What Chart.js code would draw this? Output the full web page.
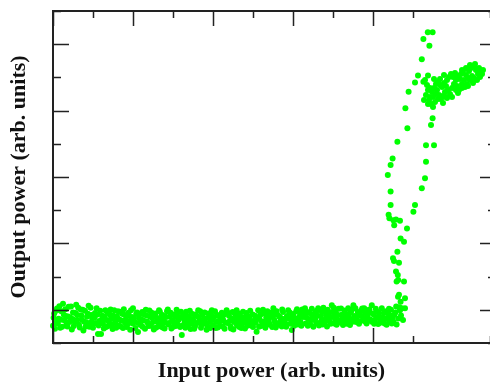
<!DOCTYPE html>
<html>
<head>
<meta charset="utf-8">
<script src="https://cdn.jsdelivr.net/npm/chart.js@4"></script>
<style>
  html, body { margin: 0; padding: 0; background: #fff; }
  #wrap { width: 490px; height: 385px; }
</style>
</head>
<body>
<div id="wrap"><canvas id="powerChart"></canvas></div>
<script>
// Titres des axes
const titreX = 'Input power (arb. units)';
const titreY = 'Output power (arb. units)';

// Bande plate (sous le seuil)
const plat = [
  [0,5.2],[0.3,8.9],[0.7,6.1],[1.0,10.4],[1.4,7.3],[1.8,4.6],[2.1,9.6],[2.5,11.8],[2.9,6.8],[3.2,8.1],
  [3.6,5.0],[3.9,10.9],[4.3,7.7],[4.7,4.1],[5.0,9.2],[5.4,6.4],[5.8,11.5],[6.1,8.4],[6.5,5.5],[6.9,10.1],
  [7.2,7.0],[7.6,3.8],[8.0,9.7],[8.3,6.2],[8.7,8.8],[9.1,4.9],[9.4,10.6],[9.8,7.4],[10.2,5.8],[10.5,9.0],
  [10.9,10.5],[11.25,2.7],[11.6,6.6],[12.0,2.7],[12.3,8.2],[12.7,4.4],[13.1,9.9],[13.4,6.9],[13.8,5.1],[14.2,8.6],
  [14.5,7.3],[14.9,4.2],[15.3,9.9],[15.6,6.0],[16.0,8.0],[16.4,5.3],[16.7,9.4],[17.1,6.7],[17.5,4.5],[17.8,8.5],
  [18.2,7.1],[18.6,5.6],[18.9,9.1],[19.3,4.0],[19.7,7.8],[20.0,10.5],[20.4,6.3],[20.8,8.7],[21.25,3.3],[21.5,7.5],
  [21.9,5.4],[22.3,9.3],[22.6,6.8],[23.0,4.3],[23.4,8.3],[23.7,6.0],[24.1,9.8],[24.5,5.2],[24.8,7.6],[25.2,4.1],
  [25.6,8.9],[25.9,6.5],[26.3,5.0],[26.7,9.5],[27.0,7.2],[27.4,4.7],[27.8,8.1],[28.1,6.1],[28.5,9.6],[28.9,5.6],
  [29.2,7.9],[29.6,4.4],[30.0,8.6],[30.3,6.4],[30.7,5.1],[31.1,9.0],[31.4,7.0],[31.8,4.8],[32.2,2.4],[32.5,8.4],
  [32.9,6.2],[33.3,9.4],[33.6,5.3],[34.0,7.6],[34.4,4.2],[34.7,8.8],[35.1,6.6],[35.5,5.0],[35.8,8.1],[36.3,9.9],
  [36.6,6.9],[37.0,4.6],[37.3,8.5],[37.7,5.9],[38.1,7.4],[38.4,4.0],[38.8,8.9],[39.2,6.3],[39.7,9.9],[40.0,5.4],
  [40.3,7.8],[40.7,4.5],[41.1,8.4],[41.4,6.5],[41.8,5.2],[42.2,9.1],[42.5,7.1],[42.9,4.3],[43.4,9.9],[43.6,6.0],
  [44.0,8.2],[44.4,5.0],[44.7,7.3],[45.1,4.1],[45.5,8.7],[45.9,9.9],[46.2,6.4],[46.6,4.8],[46.9,8.0],[47.3,5.7],
  [47.7,7.5],[48.0,4.4],[48.4,9.0],[48.8,6.1],[49.1,7.9],[49.5,5.3],[49.9,8.6],[50.2,6.7],[50.9,3.4],[51.3,9.9],
  [51.6,7.2],[52.0,5.1],[52.4,8.9],[52.7,6.3],[53.1,4.6],[53.5,8.3],[53.8,6.9],[54.2,5.5],[54.6,9.2],[55.1,10.5],
  [55.3,7.0],[55.7,4.7],[56.1,8.5],[56.4,6.0],[56.8,7.7],[57.2,5.0],[57.5,9.3],[57.9,6.6],[58.3,4.9],[58.8,9.9],
  [59.0,7.4],[59.4,5.8],[59.7,3.9],[60.1,8.7],[60.5,6.8],[60.8,9.6],[61.2,5.6],[61.6,8.0],[61.9,6.3],[62.3,10.1],
  [63.0,10.5],[63.4,7.6],[63.7,5.2],[64.1,9.0],[64.5,6.9],[64.8,8.4],[65.1,4.9],[65.6,7.3],[65.9,9.7],[66.3,10.5],
  [66.7,6.1],[67.0,8.2],[67.4,5.6],[67.8,9.4],[68.1,7.1],[68.5,5.0],[68.9,8.8],[69.2,6.5],[69.7,11.4],[70.0,7.9],
  [70.3,5.9],[70.7,9.1],[71.1,7.0],[71.4,10.3],[71.8,6.2],[72.2,8.5],[72.5,5.4],[72.9,9.8],[73.3,7.4],[73.6,6.0],
  [74.0,8.7],[74.25,5.4],[74.7,10.0],[75.1,11.4],[75.4,7.7],[75.8,6.3],[76.2,9.3],[76.5,5.8],[76.9,8.2],[77.3,10.4],
  [77.6,6.8],[78.0,9.0],[78.4,5.9],[78.7,7.5],[79.1,10.1],[79.7,11.4],[79.7,6.4],[80.2,8.6],[80.5,7.0],[80.9,9.5],
  [81.3,5.7],[81.6,8.0],[82.0,6.7],[82.2,10.5],[82.7,9.0],[83.1,7.3],[83.4,5.5],[83.8,8.9],[84.2,6.6],[84.5,10.0],
  [84.9,7.8],[85.1,6.4],[85.6,9.2],[85.9,5.6],[86.3,7.4],[86.6,10.8],[87.0,8.3],[87.2,10.5],[86.25,13.9],[87.5,6.9]
];

// Deuxieme passage de mesure, meme bande
const plat2 = [
  [0.15,7.6],[0.5,4.3],[0.9,9.8],[1.2,5.9],[1.6,11.1],[2.0,7.0],[2.3,4.9],[2.7,8.5],[3.1,10.2],[3.4,5.7],
  [3.8,8.0],[4.1,6.3],[4.5,11.0],[4.9,7.2],[5.2,5.1],[5.6,9.0],[6.0,6.9],[6.3,10.6],[6.7,4.7],[7.1,8.3],
  [7.4,10.0],[7.8,6.4],[8.2,5.0],[8.5,7.9],[8.9,11.2],[9.3,6.1],[9.6,8.4],[10.0,4.6],[10.4,7.7],[10.7,6.0],
  [11.1,8.6],[11.4,5.3],[11.8,9.7],[12.2,7.0],[12.5,5.8],[12.9,8.0],[13.3,4.8],[13.6,9.3],[14.0,6.4],[14.4,10.1],
  [14.7,5.5],[15.1,8.2],[15.5,6.8],[15.8,4.6],[16.2,9.6],[16.6,7.1],[16.9,5.0],[17.3,8.8],[17.7,10.2],[18.0,6.2],
  [18.4,4.8],[18.8,8.3],[19.1,6.6],[19.5,9.9],[19.9,5.9],[20.2,7.4],[20.6,4.5],[21.0,9.2],[21.3,6.0],[21.7,8.7],
  [22.1,7.1],[22.4,4.9],[22.8,8.6],[23.2,10.0],[23.5,6.5],[23.9,5.1],[24.3,7.9],[24.6,9.2],[25.0,6.3],[25.4,8.1],
  [25.7,4.6],[26.1,7.5],[26.5,9.9],[26.8,5.8],[27.2,8.5],[27.6,6.6],[27.9,4.4],[28.3,7.8],[28.7,10.1],[29.0,6.0],
  [29.4,9.1],[29.8,6.8],[30.1,4.9],[30.5,8.0],[30.9,10.0],[31.2,5.6],[31.6,7.7],[32.0,9.4],[32.3,5.2],[32.7,7.3],
  [33.1,4.6],[33.4,8.2],[33.8,6.8],[34.2,9.7],[34.5,5.9],[34.9,7.2],[35.3,4.3],[35.6,8.6],[36.0,6.0],[36.4,7.8],
  [36.8,9.6],[37.1,5.5],[37.5,7.0],[37.9,9.2],[38.2,6.0],[38.6,5.0],[39.0,7.7],[39.3,4.5],[39.5,8.6],[39.9,7.0],
  [40.5,9.6],[40.9,6.3],[41.2,4.7],[41.6,8.0],[42.0,6.8],[42.4,5.0],[42.7,8.5],[43.1,6.2],[43.8,9.0],[44.2,6.6],
  [44.5,4.4],[44.9,9.3],[45.3,6.3],[45.7,7.5],[46.0,5.3],[46.4,8.9],[46.8,6.9],[47.1,4.5],[47.5,9.4],[47.9,6.3],
  [48.2,8.0],[48.6,5.2],[49.0,7.1],[49.3,9.7],[49.7,6.2],[50.0,4.8],[50.5,8.2],[50.7,6.1],[51.1,7.5],[51.5,4.9],
  [51.8,8.4],[52.2,6.5],[52.5,10.0],[52.9,5.6],[53.3,7.6],[53.6,9.6],[54.0,6.1],[54.4,7.8],[54.8,4.8],[55.0,8.5],
  [55.5,6.2],[55.9,9.6],[56.2,5.5],[56.6,8.0],[57.0,6.5],[57.3,10.1],[57.7,7.2],[58.1,5.8],[58.5,8.1],[59.2,9.2],
  [59.6,6.8],[59.9,8.2],[60.3,5.2],[60.6,7.4],[61.0,10.2],[61.4,6.8],[61.8,9.1],[62.1,5.2],[62.5,7.8],[62.8,8.9],
  [63.2,5.9],[63.6,9.3],[63.9,7.2],[64.3,5.6],[64.7,10.3],[65.0,7.0],[65.4,8.9],[65.8,6.0],[66.1,8.2],[66.5,5.3],
  [66.9,9.9],[67.2,7.0],[67.6,10.6],[68.0,6.4],[68.3,8.5],[68.7,10.0],[69.0,7.5],[69.4,5.8],[69.9,9.3],[70.2,10.6],
  [70.5,7.3],[70.9,5.5],[71.2,8.4],[71.6,6.8],[72.0,10.4],[72.4,7.6],[72.7,6.2],[73.1,8.9],[73.5,5.8],[73.8,10.5],
  [74.2,7.3],[74.5,9.4],[74.9,6.4],[75.3,8.1],[75.6,10.5],[76.0,7.0],[76.4,8.6],[76.7,6.4],[77.1,9.8],[77.5,7.6],
  [77.8,10.5],[78.2,6.3],[78.6,8.4],[78.9,9.6],[79.3,7.1],[79.9,8.9],[80.3,5.8],[80.7,10.3],[81.1,7.6],[81.4,9.2],
  [81.8,6.1],[82.4,7.7],[82.9,5.9],[83.3,9.6],[83.6,7.5],[84.0,10.3],[84.4,8.2],[84.7,5.9],[85.3,8.5],[85.8,11.0]
];

// Montee et descente (boucle d'hysteresis)
const transition = [
  [86.1,60.6],[93.25,59.6],[95.25,59.6],[84.9,55.6],[93.25,54.6],[84.4,53.6],[83.7,50.6],[93.0,49.6],
  [84.4,45.6],[92.2,46.6],[84.4,41.6],[90.5,41.6],[90.1,39.5],[83.9,38.6],[84.1,37.6],[85.1,37.0],
  [85.75,37.2],[86.75,36.8],[85.3,35.5],[88.5,34.5],[86.9,31.5],[87.75,30.5],[86.1,27.5],[85.0,25.5],
  [85.25,24.7],[86.5,24.2],[85.75,21.5],[86.2,20.5],[86.3,19.0],[87.75,18.5],[85.9,18.5],[86.5,14.5],
  [88.0,13.5],[86.9,12.4],[86.75,9.9],[88.0,10.5],
  [93.7,93.6],[94.9,93.6],[92.6,91.6],[94.1,89.5],[92.2,85.5],[91.25,80.6],[93.75,80.6],[90.5,78.5],
  [92.6,78.7],[88.9,75.7],[88.1,70.7],[94.9,67.7],[94.5,65.7],[88.6,64.7]
];

// Plateau (au-dessus du seuil)
const plateau = [
  [93,79.2],[93.5,77.7],[93.75,76.2],[93.25,74.7],[94,73.2],[94.5,72.0],[95,71.1],[95.5,72.6],
  [94.25,74.1],[94.75,75.6],[95.25,76.8],[95.75,78.0],[96.25,78.6],[96.75,79.5],[96,76.2],[96.5,74.7],
  [97,73.5],[97.5,74.4],[98,75.6],[97.25,77.1],[97.75,78.3],[98.5,79.2],[99,80.1],[98.25,77.4],
  [98.75,76.2],[99.25,75.0],[98.5,73.8],[99.75,76.8],[100.25,78.0],[100.75,79.2],[100,80.1],[101.25,80.4],
  [101.75,79.5],[101,77.4],[101.5,76.2],[102.25,78.0],[102.75,79.2],[102,81.0],[102.5,81.9],[103.25,80.7],
  [103.75,79.8],[103,77.1],[103.5,78.0],[104.25,79.2],[104.75,80.4],[104,81.9],[104.5,82.8],[105.25,83.4],
  [105.75,82.2],[106.25,81.0],[106.75,80.1],[106,79.2],[105,78.3],[105.5,84.0],[106.5,82.8],[107,81.9],
  [104.25,83.7],[103.25,82.8],[102.25,82.2],[100.5,81.3],[99.5,81.0],[97.75,80.7],[96.75,77.7],[95.75,75.0],
  [95,74.1],[93.75,72.0],[92.75,73.2],[94.25,76.8],[95.25,79.5],[97.5,72.3],[99.75,74.1],[101.25,75.3],
  [98.25,74.1],[96.25,73.5],[100.75,76.2],[102.25,76.8],[103.75,77.4],[105.25,79.8],[107.5,82.2],[107.25,81.0]
];

const points = [...plat, ...plat2, ...transition, ...plateau].map(p => ({ x: p[0], y: p[1] }));

// Cadre ouvert a droite (il sort de l'image) et graduations vers l'interieur
const cadrePlugin = {
    id: 'cadre',
    afterDatasetsDraw(chart) {
        const { ctx, chartArea: a, scales } = chart;
        ctx.save();
        ctx.strokeStyle = '#222';
        ctx.lineWidth = 1.5;
        scales.x.ticks.forEach(t => {
            const px = Math.round(scales.x.getPixelForValue(t.value)) + 0.5;
            const len = t.value % 20 === 0 ? 15 : 7;
            ctx.beginPath();
            ctx.moveTo(px, a.bottom); ctx.lineTo(px, a.bottom - len);
            ctx.moveTo(px, a.top); ctx.lineTo(px, a.top + len);
            ctx.stroke();
        });
        scales.y.ticks.forEach(t => {
            const py = Math.round(scales.y.getPixelForValue(t.value)) + 0.5;
            const major = t.value % 20 === 10;
            ctx.beginPath();
            ctx.moveTo(a.left, py); ctx.lineTo(a.left + (major ? 16 : 8), py);
            ctx.moveTo(a.right, py); ctx.lineTo(a.right - (major ? 10 : 2), py);
            ctx.stroke();
        });
        ctx.lineWidth = 2;
        ctx.beginPath();
        ctx.moveTo(a.right, a.top);
        ctx.lineTo(a.left, a.top);
        ctx.lineTo(a.left, a.bottom);
        ctx.lineTo(a.right, a.bottom);
        ctx.stroke();
        ctx.restore();
    }
};

const ctx = document.getElementById('powerChart').getContext('2d');
new Chart(ctx, {
    type: 'scatter',
    data: {
        datasets: [{
            data: points,
            pointRadius: 3,
            pointBorderWidth: 0,
            pointBackgroundColor: '#00ff00',
            pointBorderColor: '#00ff00',
            clip: false
        }]
    },
    options: {
        responsive: true,
        maintainAspectRatio: false,
        animation: false,
        layout: { autoPadding: false, padding: { top: 11, right: 0, left: 0, bottom: 0 } },
        plugins: { legend: { display: false }, tooltip: { enabled: false } },
        scales: {
            x: {
                type: 'linear', min: 0, max: 109.25,
                ticks: { display: false, stepSize: 10 },
                grid: { display: false },
                border: { display: false },
                title: {
                    display: true, text: titreX, color: '#111',
                    font: { family: 'Liberation Serif', weight: 'bold', size: 22 },
                    padding: { top: 0, bottom: 0 }
                },
                afterFit(scale) { scale.height = 42; }
            },
            y: {
                type: 'linear', min: 0, max: 100,
                ticks: { display: false, stepSize: 10 },
                grid: { display: false },
                border: { display: false },
                title: {
                    display: true, text: titreY, color: '#111',
                    font: { family: 'Liberation Serif', weight: 'bold', size: 22 },
                    padding: { top: 6, bottom: 0 }
                },
                afterFit(scale) { scale.width = 53; }
            }
        }
    },
    plugins: [cadrePlugin]
});
</script>
</body>
</html>
